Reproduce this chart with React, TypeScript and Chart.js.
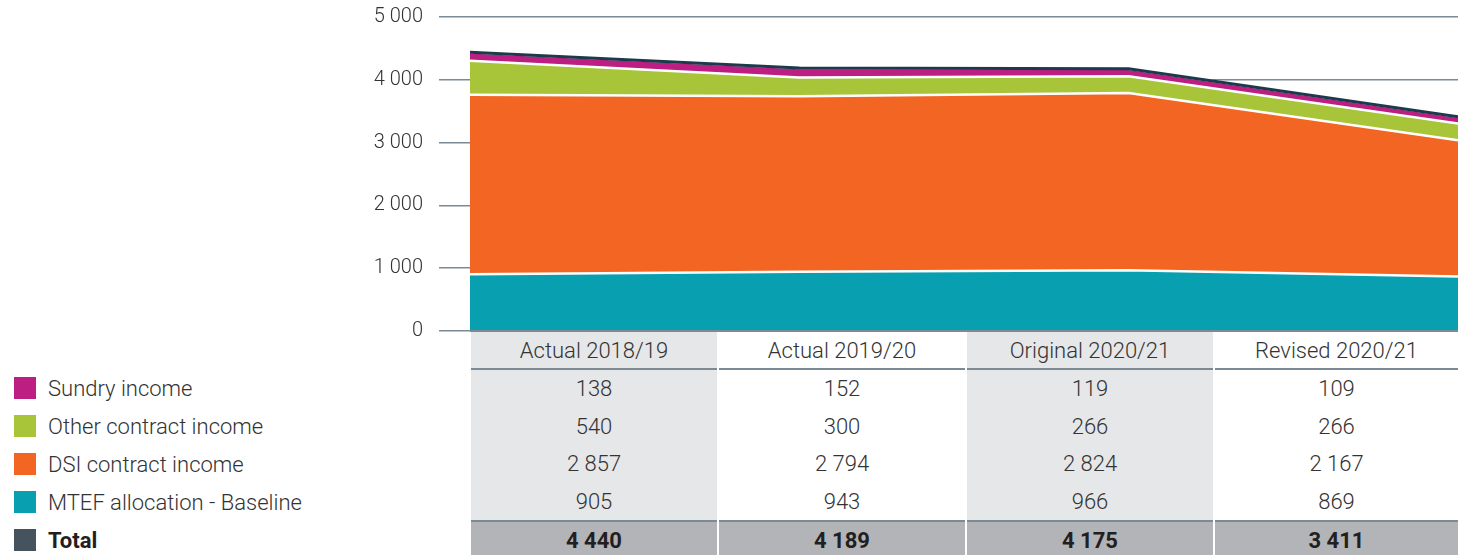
import React, { useEffect, useRef } from 'react';
import { Chart, registerables } from 'chart.js';

Chart.register(...registerables);

// ---- Data ----
const categories = ['Actual 2018/19', 'Actual 2019/20', 'Original 2020/21', 'Revised 2020/21'];
const mtefBaseline = [905, 943, 966, 869];
const dsiContract = [2857, 2794, 2824, 2167];
const otherContract = [540, 300, 266, 266];
const sundryIncome = [138, 152, 119, 109];
const totalIncome = [4440, 4189, 4175, 3411];
const yTickValues = [0, 1000, 2000, 3000, 4000, 5000];

// ---- Styles ----
const FONT = 'Roboto, "Liberation Sans", Arial, sans-serif';
const TEAL = '#08a0b1';
const ORANGE = '#f26522';
const GREEN = '#a8c539';
const MAGENTA = '#bd1e81';
const DARK_LINE = '#1c3a4c';
const TOTAL_SWATCH = '#45535f';
const GRID = '#7b8a95';
const LIGHT_CELL = '#e6e7e8';
const TOTAL_CELL = '#b2b4b7';
const TEXT = '#333333';

const fmt = (v: number) => String(v).replace(/\B(?=(\d{3})+(?!\d))/g, ' ');

const tableRows = [
  { name: 'Sundry income', color: MAGENTA, values: sundryIncome, bold: false },
  { name: 'Other contract income', color: GREEN, values: otherContract, bold: false },
  { name: 'DSI contract income', color: ORANGE, values: dsiContract, bold: false },
  { name: 'MTEF allocation - Baseline', color: TEAL, values: mtefBaseline, bold: false },
];

export default function App() {
  const ref = useRef<HTMLCanvasElement>(null);

  useEffect(() => {
    if (!ref.current) return;
    const areaCommon = {
      borderColor: '#ffffff',
      borderWidth: 2.5,
      pointRadius: 0,
      pointHoverRadius: 0,
      tension: 0,
      stack: 'income',
    };
    const chart = new Chart(ref.current, {
      type: 'line',
      data: {
        labels: categories,
        datasets: [
          { ...areaCommon, label: 'MTEF allocation - Baseline', data: mtefBaseline, backgroundColor: TEAL, fill: 'origin', order: 1 },
          { ...areaCommon, label: 'DSI contract income', data: dsiContract, backgroundColor: ORANGE, fill: '-1', order: 2 },
          { ...areaCommon, label: 'Other contract income', data: otherContract, backgroundColor: GREEN, fill: '-1', order: 3 },
          { ...areaCommon, label: 'Sundry income', data: sundryIncome, backgroundColor: MAGENTA, fill: '-1', order: 4 },
          {
            label: 'Total',
            data: totalIncome,
            borderColor: DARK_LINE,
            borderWidth: 3,
            backgroundColor: DARK_LINE,
            fill: false,
            pointRadius: 0,
            pointHoverRadius: 0,
            tension: 0,
            stack: 'total',
            order: 0,
          },
        ],
      } as any,
      options: {
        responsive: false,
        animation: false,
        layout: { padding: { top: 17, bottom: 14, left: 0, right: 0 } },
        plugins: { legend: { display: false }, tooltip: { enabled: false } },
        scales: {
          x: { display: false, offset: false },
          y: {
            stacked: true,
            min: 0,
            max: 5000,
            afterBuildTicks: (scale: any) => {
              scale.ticks = yTickValues.map((v) => ({ value: v }));
            },
            afterFit: (scale: any) => {
              scale.width = 470;
              scale.paddingTop = 0;
              scale.paddingBottom = 0;
            },
            ticks: {
              color: TEXT,
              padding: 16,
              font: { family: FONT, size: 20, weight: '300' },
              callback: (v: any) => fmt(Number(v)),
            },
            grid: {
              color: GRID,
              lineWidth: 1.5,
              tickLength: 31,
              tickColor: GRID,
              drawTicks: true,
            },
            border: { display: false },
          },
        },
      } as any,
    });
    return () => chart.destroy();
  }, []);

  const colLeft = (i: number) => 471 + i * 248;
  const colWidth = (i: number) => (i < 3 ? 246 : 1458 - colLeft(3));

  const cellText: React.CSSProperties = {
    position: 'absolute',
    display: 'flex',
    alignItems: 'center',
    justifyContent: 'center',
    fontFamily: FONT,
    fontWeight: 300,
    fontSize: 22,
    color: TEXT,
    whiteSpace: 'nowrap',
  };

  return (
    <div style={{ position: 'absolute', left: 0, top: 0, width: 1458, height: 555, background: '#ffffff', overflow: 'hidden' }}>
      <canvas ref={ref} width={1458} height={345} style={{ position: 'absolute', left: 0, top: 0, width: 1458, height: 345 }} />

      {/* table */}
      {categories.map((cat, i) => (
        <React.Fragment key={cat}>
          <div style={{ position: 'absolute', left: colLeft(i), top: 332, width: colWidth(i), height: 36, background: i % 2 === 0 ? LIGHT_CELL : '#ffffff' }} />
          <div style={{ ...cellText, left: colLeft(i), top: 332, width: colWidth(i), height: 37 }}>{cat}</div>
          <div style={{ position: 'absolute', left: colLeft(i), top: 368, width: colWidth(i), height: 2, background: GRID }} />
          <div style={{ position: 'absolute', left: colLeft(i), top: 370, width: colWidth(i), height: 150, background: i % 2 === 0 ? LIGHT_CELL : '#ffffff' }} />
          {tableRows.map((row, r) => (
            <div key={row.name} style={{ ...cellText, left: colLeft(i), top: 370 + r * 37.5, width: colWidth(i), height: 37.5 }}>
              {fmt(row.values[i])}
            </div>
          ))}
          <div style={{ position: 'absolute', left: colLeft(i), top: 520, width: colWidth(i), height: 2, background: GRID }} />
          <div style={{ position: 'absolute', left: colLeft(i), top: 522, width: colWidth(i), height: 33, background: TOTAL_CELL }} />
          <div style={{ ...cellText, left: colLeft(i), top: 522, width: colWidth(i), height: 36, fontWeight: 700, color: '#231f20' }}>
            {fmt(totalIncome[i])}
          </div>
        </React.Fragment>
      ))}
      <div style={{ position: 'absolute', left: 470, top: 330, width: 988, height: 2, background: GRID }} />

      {/* legend */}
      {[...tableRows, { name: 'Total', color: TOTAL_SWATCH, values: totalIncome, bold: true }].map((row, r) => (
        <React.Fragment key={'lg' + row.name}>
          <div style={{ position: 'absolute', left: 14, top: 377 + r * 38, width: 22, height: 22, background: row.color }} />
          <div
            style={{
              position: 'absolute',
              left: 48,
              top: 377 + r * 38 - 8,
              height: 38,
              display: 'flex',
              alignItems: 'center',
              fontFamily: FONT,
              fontSize: 22,
              color: row.bold ? '#231f20' : TEXT,
              fontWeight: row.bold ? 700 : 300,
              whiteSpace: 'nowrap',
            }}
          >
            {row.name}
          </div>
        </React.Fragment>
      ))}
    </div>
  );
}
